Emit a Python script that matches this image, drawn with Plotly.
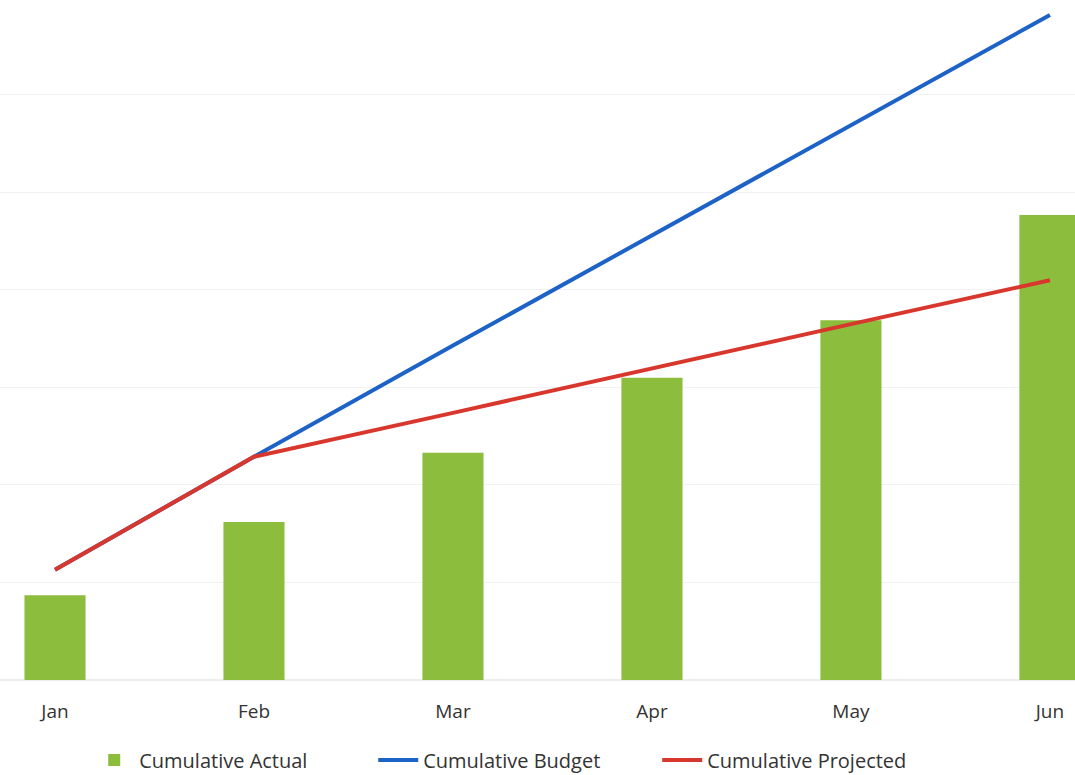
import plotly.graph_objects as go

months = ["Jan", "Feb", "Mar", "Apr", "May", "Jun"]
cumulative_actual = [0.87, 1.62, 2.33, 3.10, 3.69, 4.77]
cumulative_budget = [1.13, 2.29, 3.43, 4.56, 5.69, 6.82]
cumulative_projected = [1.13, 2.29, 2.74, 3.20, 3.65, 4.10]

fig = go.Figure()
fig.add_trace(go.Bar(x=months, y=cumulative_actual, name="Cumulative Actual",
                     marker=dict(color="#8CBD3D", line=dict(width=0)), width=0.307))
fig.add_trace(go.Scatter(x=months, y=cumulative_budget, name="Cumulative Budget", mode="lines",
                         line=dict(color="#1D62C6", width=4)))
fig.add_trace(go.Scatter(x=months, y=cumulative_projected, name="Cumulative Projected", mode="lines",
                         line=dict(color="#D8372D", width=4)))

fig.update_layout(
    width=1075, height=775,
    margin=dict(l=0, r=0, t=0, b=95, autoexpand=False),
    paper_bgcolor="white", plot_bgcolor="white",
    font=dict(family="Open Sans, Noto Sans, sans-serif", color="#333333", size=19),
    showlegend=True,
    legend=dict(orientation="h", x=0.083, xanchor="left", y=0.0194, yanchor="middle",
                yref="container",
                font=dict(size=20, color="#333333"), entrywidth=229, entrywidthmode="pixels",
                traceorder="normal", itemwidth=40),
    xaxis=dict(type="category", range=[-0.2764, 5.126], showgrid=False, zeroline=False,
               showline=False, ticks="", ticklabelstandoff=18, tickfont=dict(size=19)),
    yaxis=dict(range=[0, 6.974], dtick=1, showgrid=True, gridcolor="#f2f2f2", gridwidth=1,
               showticklabels=False, zeroline=True, zerolinecolor="#ededed", showline=False),
    bargap=0.5,
)

fig.write_html("out.html")
